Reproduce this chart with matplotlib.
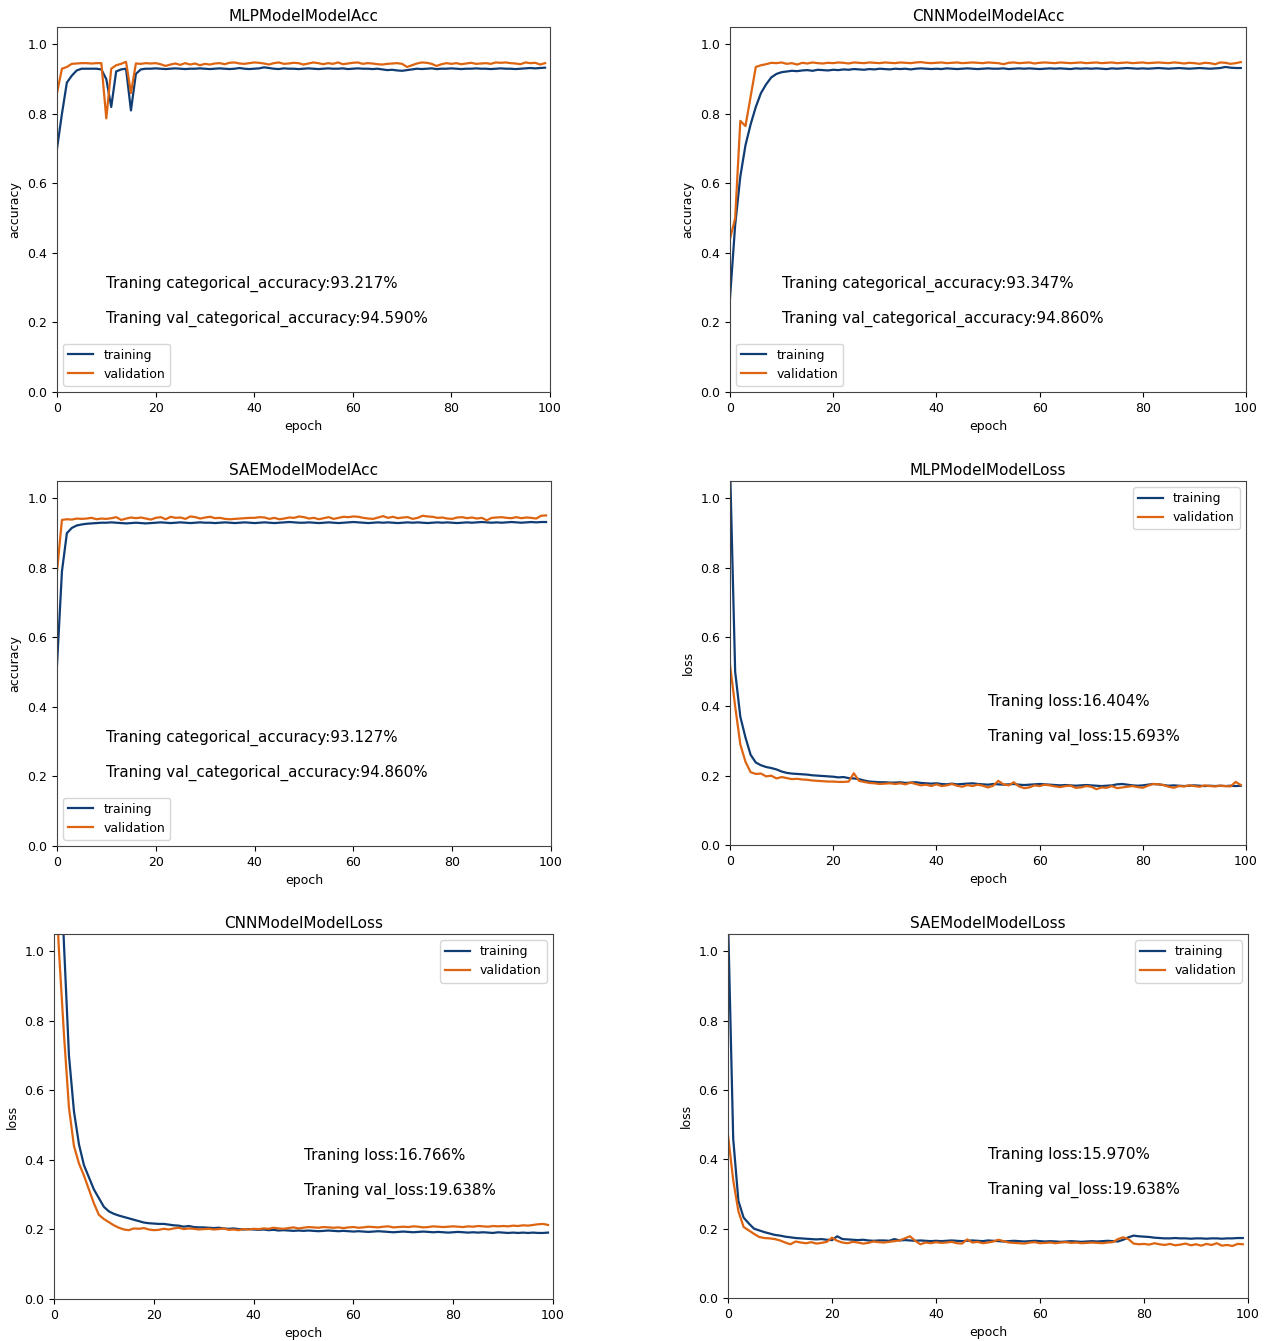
import numpy as np
import matplotlib
matplotlib.use('Agg')
import matplotlib.pyplot as plt

# epochs 0..99
epochs = list(range(100))

mlp_acc_train = [
    0.700, 0.800, 0.890, 0.910, 0.925, 0.930, 0.930, 0.930, 0.930, 0.928,
    0.900, 0.820, 0.922, 0.928, 0.930, 0.810, 0.915, 0.928, 0.930, 0.930,
    0.931, 0.930, 0.929, 0.930, 0.931, 0.930, 0.929, 0.930, 0.930, 0.931,
    0.930, 0.929, 0.930, 0.931, 0.930, 0.929, 0.930, 0.932, 0.930, 0.929,
    0.930, 0.931, 0.934, 0.932, 0.930, 0.929, 0.931, 0.930, 0.930, 0.929,
    0.930, 0.931, 0.930, 0.929, 0.930, 0.931, 0.930, 0.930, 0.931, 0.929,
    0.930, 0.931, 0.930, 0.930, 0.929, 0.930, 0.928, 0.926, 0.927, 0.925,
    0.924, 0.926, 0.928, 0.930, 0.929, 0.930, 0.931, 0.929, 0.930, 0.930,
    0.931, 0.930, 0.929, 0.930, 0.930, 0.931, 0.930, 0.930, 0.929, 0.930,
    0.931, 0.930, 0.930, 0.929, 0.930, 0.931, 0.932, 0.931, 0.932, 0.933]
mlp_acc_val = [
    0.860, 0.930, 0.935, 0.944, 0.945, 0.946, 0.946, 0.945, 0.946, 0.946,
    0.787, 0.930, 0.940, 0.944, 0.950, 0.860, 0.945, 0.944, 0.946, 0.945,
    0.946, 0.943, 0.938, 0.942, 0.945, 0.941, 0.946, 0.942, 0.945, 0.940,
    0.944, 0.942, 0.945, 0.946, 0.943, 0.947, 0.948, 0.945, 0.944, 0.946,
    0.948, 0.947, 0.945, 0.942, 0.946, 0.948, 0.944, 0.945, 0.947, 0.946,
    0.942, 0.945, 0.948, 0.946, 0.943, 0.946, 0.944, 0.948, 0.943, 0.945,
    0.947, 0.948, 0.944, 0.946, 0.945, 0.943, 0.942, 0.944, 0.945, 0.946,
    0.944, 0.935, 0.940, 0.945, 0.948, 0.947, 0.944, 0.938, 0.943, 0.946,
    0.944, 0.946, 0.943, 0.945, 0.947, 0.944, 0.945, 0.946, 0.944, 0.948,
    0.947, 0.948, 0.946, 0.945, 0.943, 0.948, 0.946, 0.947, 0.942, 0.946]

cnn_acc_train = [
    0.270, 0.480, 0.620, 0.710, 0.770, 0.820, 0.860, 0.885, 0.905, 0.915,
    0.920, 0.922, 0.924, 0.923, 0.925, 0.926, 0.924, 0.927, 0.926, 0.925,
    0.927, 0.926, 0.928, 0.927, 0.929, 0.928, 0.927, 0.929, 0.928, 0.930,
    0.929, 0.928, 0.930, 0.929, 0.930, 0.928, 0.930, 0.931, 0.930, 0.929,
    0.930, 0.929, 0.931, 0.930, 0.929, 0.930, 0.931, 0.930, 0.929, 0.930,
    0.931, 0.930, 0.930, 0.931, 0.929, 0.930, 0.931, 0.930, 0.931, 0.930,
    0.929, 0.930, 0.931, 0.930, 0.931, 0.930, 0.929, 0.931, 0.930, 0.931,
    0.930, 0.931, 0.930, 0.929, 0.931, 0.930, 0.931, 0.932, 0.931, 0.930,
    0.931, 0.930, 0.931, 0.932, 0.931, 0.930, 0.931, 0.932, 0.931, 0.930,
    0.931, 0.932, 0.931, 0.930, 0.931, 0.932, 0.935, 0.933, 0.932, 0.932]
cnn_acc_val = [
    0.440, 0.500, 0.780, 0.765, 0.850, 0.935, 0.940, 0.943, 0.947, 0.946,
    0.948, 0.944, 0.946, 0.942, 0.947, 0.945, 0.948, 0.946, 0.945, 0.947,
    0.946, 0.948, 0.947, 0.945, 0.948, 0.947, 0.946, 0.948, 0.947, 0.946,
    0.948, 0.947, 0.946, 0.948, 0.947, 0.946, 0.948, 0.949, 0.947, 0.946,
    0.947, 0.948, 0.946, 0.947, 0.948, 0.946, 0.947, 0.948, 0.947, 0.946,
    0.948, 0.947, 0.946, 0.943, 0.947, 0.948, 0.946, 0.947, 0.948, 0.945,
    0.947, 0.948, 0.947, 0.946, 0.948, 0.947, 0.946, 0.947, 0.948, 0.946,
    0.947, 0.948, 0.946, 0.947, 0.948, 0.946, 0.947, 0.948, 0.946, 0.947,
    0.948, 0.946, 0.947, 0.948, 0.947, 0.946, 0.948, 0.947, 0.945, 0.947,
    0.946, 0.944, 0.947, 0.946, 0.943, 0.948, 0.947, 0.944, 0.946, 0.949]

sae_acc_train = [
    0.520, 0.790, 0.900, 0.915, 0.922, 0.925, 0.927, 0.928, 0.929, 0.930,
    0.930, 0.931, 0.930, 0.929, 0.928, 0.929, 0.930, 0.929, 0.928, 0.929,
    0.930, 0.931, 0.930, 0.929, 0.930, 0.931, 0.930, 0.929, 0.930, 0.931,
    0.930, 0.930, 0.929, 0.930, 0.931, 0.930, 0.929, 0.930, 0.931, 0.930,
    0.929, 0.930, 0.931, 0.930, 0.929, 0.930, 0.931, 0.932, 0.931, 0.930,
    0.930, 0.931, 0.930, 0.929, 0.930, 0.931, 0.930, 0.929, 0.930, 0.931,
    0.932, 0.931, 0.930, 0.929, 0.930, 0.931, 0.930, 0.931, 0.930, 0.929,
    0.930, 0.931, 0.930, 0.931, 0.930, 0.929, 0.930, 0.931, 0.930, 0.931,
    0.930, 0.929, 0.930, 0.931, 0.930, 0.931, 0.932, 0.931, 0.930, 0.931,
    0.930, 0.931, 0.932, 0.931, 0.930, 0.931, 0.932, 0.931, 0.932, 0.932]
sae_acc_val = [
    0.790, 0.938, 0.940, 0.939, 0.942, 0.941, 0.942, 0.944, 0.940, 0.942,
    0.941, 0.943, 0.946, 0.938, 0.942, 0.945, 0.943, 0.945, 0.942, 0.939,
    0.944, 0.946, 0.940, 0.947, 0.944, 0.945, 0.941, 0.948, 0.946, 0.942,
    0.945, 0.947, 0.943, 0.944, 0.941, 0.940, 0.941, 0.942, 0.943, 0.944,
    0.944, 0.946, 0.945, 0.941, 0.944, 0.940, 0.942, 0.945, 0.944, 0.948,
    0.946, 0.942, 0.944, 0.940, 0.943, 0.946, 0.941, 0.944, 0.947, 0.946,
    0.948, 0.947, 0.944, 0.942, 0.941, 0.945, 0.949, 0.944, 0.947, 0.943,
    0.945, 0.946, 0.941, 0.944, 0.950, 0.948, 0.947, 0.944, 0.945, 0.942,
    0.941, 0.945, 0.946, 0.943, 0.945, 0.942, 0.944, 0.937, 0.944, 0.945,
    0.946, 0.944, 0.943, 0.946, 0.943, 0.945, 0.944, 0.942, 0.950, 0.951]

mlp_loss_train = [
    1.100, 0.500, 0.370, 0.310, 0.260, 0.238, 0.230, 0.225, 0.222, 0.218,
    0.212, 0.208, 0.206, 0.205, 0.204, 0.203, 0.201, 0.200, 0.199, 0.198,
    0.197, 0.195, 0.196, 0.193, 0.192, 0.190, 0.186, 0.183, 0.182, 0.181,
    0.181, 0.180, 0.180, 0.181, 0.179, 0.180, 0.181, 0.179, 0.178, 0.177,
    0.178, 0.176, 0.175, 0.177, 0.175, 0.176, 0.177, 0.178, 0.176, 0.175,
    0.174, 0.176, 0.175, 0.174, 0.175, 0.176, 0.174, 0.173, 0.174, 0.175,
    0.176, 0.175, 0.174, 0.173, 0.172, 0.173, 0.172, 0.171, 0.172, 0.173,
    0.172, 0.171, 0.170, 0.171, 0.172, 0.175, 0.176, 0.174, 0.172, 0.171,
    0.172, 0.174, 0.176, 0.175, 0.173, 0.171, 0.172, 0.171, 0.170, 0.171,
    0.172, 0.171, 0.170, 0.171, 0.170, 0.171, 0.170, 0.171, 0.170, 0.171]
mlp_loss_val = [
    0.520, 0.400, 0.290, 0.240, 0.210, 0.205, 0.206, 0.198, 0.200, 0.192,
    0.196, 0.193, 0.190, 0.191, 0.189, 0.188, 0.186, 0.185, 0.184, 0.183,
    0.183, 0.182, 0.182, 0.183, 0.207, 0.185, 0.182, 0.179, 0.178, 0.176,
    0.177, 0.178, 0.176, 0.178, 0.175, 0.180, 0.176, 0.172, 0.174, 0.170,
    0.175, 0.170, 0.172, 0.176, 0.171, 0.168, 0.173, 0.170, 0.174, 0.171,
    0.166, 0.171, 0.185, 0.175, 0.172, 0.181, 0.169, 0.164, 0.166, 0.172,
    0.170, 0.174, 0.172, 0.169, 0.167, 0.170, 0.171, 0.165, 0.166, 0.170,
    0.168, 0.161, 0.166, 0.165, 0.170, 0.164, 0.166, 0.168, 0.170, 0.167,
    0.165, 0.171, 0.176, 0.175, 0.173, 0.168, 0.165, 0.170, 0.169, 0.172,
    0.170, 0.168, 0.172, 0.170, 0.169, 0.171, 0.170, 0.169, 0.182, 0.173]

cnn_loss_train = [
    1.700, 1.350, 1.020, 0.700, 0.540, 0.445, 0.385, 0.350, 0.315, 0.290,
    0.265, 0.252, 0.245, 0.240, 0.236, 0.232, 0.228, 0.224, 0.220, 0.218,
    0.217, 0.216, 0.216, 0.214, 0.212, 0.211, 0.208, 0.210, 0.207, 0.206,
    0.206, 0.205, 0.204, 0.205, 0.203, 0.202, 0.203, 0.201, 0.200, 0.201,
    0.200, 0.199, 0.200, 0.198, 0.199, 0.197, 0.198, 0.197, 0.196, 0.197,
    0.196, 0.197, 0.196, 0.195, 0.196, 0.197, 0.196, 0.195, 0.196, 0.195,
    0.194, 0.195, 0.194, 0.193, 0.194, 0.195, 0.194, 0.193, 0.192, 0.193,
    0.194, 0.193, 0.192, 0.193, 0.194, 0.193, 0.192, 0.193, 0.192, 0.191,
    0.192, 0.193, 0.192, 0.191, 0.192, 0.191, 0.192, 0.191, 0.190, 0.192,
    0.191, 0.190, 0.191, 0.190, 0.191, 0.190, 0.191, 0.190, 0.190, 0.191]
cnn_loss_val = [
    1.300, 1.000, 0.760, 0.550, 0.440, 0.390, 0.355, 0.315, 0.275, 0.242,
    0.230, 0.221, 0.212, 0.205, 0.200, 0.198, 0.203, 0.202, 0.204, 0.200,
    0.198, 0.199, 0.202, 0.200, 0.203, 0.205, 0.201, 0.203, 0.202, 0.200,
    0.201, 0.202, 0.200, 0.201, 0.203, 0.199, 0.200, 0.198, 0.201, 0.200,
    0.202, 0.201, 0.203, 0.202, 0.205, 0.203, 0.202, 0.204, 0.206, 0.203,
    0.205, 0.207, 0.206, 0.205, 0.207, 0.206, 0.205, 0.206, 0.204, 0.206,
    0.207, 0.205, 0.206, 0.208, 0.207, 0.206, 0.208, 0.209, 0.206, 0.207,
    0.208, 0.207, 0.209, 0.208, 0.206, 0.207, 0.209, 0.208, 0.207, 0.208,
    0.209, 0.208, 0.207, 0.209, 0.208, 0.210, 0.209, 0.208, 0.210, 0.209,
    0.210, 0.209, 0.211, 0.210, 0.212, 0.211, 0.213, 0.215, 0.216, 0.213]

sae_loss_train = [
    1.100, 0.460, 0.280, 0.232, 0.215, 0.200, 0.195, 0.190, 0.186, 0.182,
    0.180, 0.177, 0.175, 0.173, 0.172, 0.171, 0.170, 0.169, 0.170, 0.168,
    0.167, 0.178, 0.170, 0.169, 0.168, 0.167, 0.168, 0.166, 0.165, 0.166,
    0.166, 0.165, 0.170, 0.166, 0.167, 0.166, 0.165, 0.166, 0.165, 0.164,
    0.165, 0.164, 0.165, 0.166, 0.165, 0.164, 0.165, 0.166, 0.165, 0.164,
    0.166, 0.165, 0.164, 0.163, 0.164, 0.165, 0.164, 0.163, 0.164, 0.165,
    0.164, 0.163, 0.164, 0.163, 0.162, 0.163, 0.164, 0.163, 0.162, 0.163,
    0.164, 0.163, 0.164, 0.165, 0.164, 0.163, 0.168, 0.175, 0.180, 0.178,
    0.177, 0.176, 0.174, 0.173, 0.172, 0.172, 0.173, 0.172, 0.172, 0.171,
    0.172, 0.172, 0.171, 0.172, 0.172, 0.171, 0.172, 0.172, 0.173, 0.173]
sae_loss_val = [
    0.470, 0.340, 0.250, 0.205, 0.195, 0.185, 0.176, 0.173, 0.172, 0.170,
    0.166, 0.160, 0.155, 0.163, 0.160, 0.158, 0.161, 0.157, 0.159, 0.162,
    0.174, 0.165, 0.160, 0.158, 0.162, 0.160, 0.157, 0.159, 0.163, 0.161,
    0.160, 0.162, 0.164, 0.166, 0.172, 0.178, 0.165, 0.155, 0.160, 0.158,
    0.161, 0.159, 0.160, 0.162, 0.158, 0.157, 0.169, 0.160, 0.162, 0.158,
    0.160, 0.163, 0.168, 0.164, 0.160, 0.159, 0.158, 0.157, 0.160, 0.161,
    0.158, 0.159, 0.160, 0.158, 0.160, 0.161, 0.159, 0.160, 0.158, 0.159,
    0.160, 0.159, 0.158, 0.160, 0.161, 0.170, 0.175, 0.170, 0.157, 0.155,
    0.156, 0.154, 0.158, 0.155, 0.153, 0.156, 0.152, 0.154, 0.157, 0.152,
    0.155, 0.151, 0.156, 0.153, 0.158, 0.151, 0.153, 0.150, 0.156, 0.155]

TRAIN_C = '#103c74'
VAL_C = '#dd6410'

W, H = 1268, 1341
fig = plt.figure(figsize=(W / 100, H / 100), dpi=100)


def panel(box, title, train, val, ylabel, notes, note_x, note_ys, legend_loc):
    x0, y0, x1, y1 = box
    ax = fig.add_axes([x0 / W, (H - y1) / H, (x1 - x0) / W, (y1 - y0) / H])
    ax.plot(epochs, train, color=TRAIN_C, lw=1.6, label='training')
    ax.plot(epochs, val, color=VAL_C, lw=1.6, label='validation')
    ax.set_xlim(0, 100)
    ax.set_ylim(0, 1.05)
    ax.set_xticks([0, 20, 40, 60, 80, 100])
    ax.set_yticks([0.0, 0.2, 0.4, 0.6, 0.8, 1.0])
    ax.tick_params(labelsize=9)
    for s in ax.spines.values():
        s.set_color('#444444')
    ax.set_title(title, fontsize=11, pad=4)
    ax.set_xlabel('epoch', fontsize=9)
    ax.set_ylabel(ylabel, fontsize=9)
    for txt, ty in zip(notes, note_ys):
        ax.text(note_x, ty, txt, fontsize=10.9)
    ax.legend(loc=legend_loc, fontsize=9, handlelength=2.0)
    return ax


acc_notes = lambda a, v: ['Traning categorical_accuracy:%s' % a,
                          'Traning val_categorical_accuracy:%s' % v]
loss_notes = lambda a, v: ['Traning loss:%s' % a, 'Traning val_loss:%s' % v]

panel((57, 27, 550, 392), 'MLPModelModelAcc', mlp_acc_train, mlp_acc_val,
      'accuracy', acc_notes('93.217%', '94.590%'), 10, [0.3, 0.2], 'lower left')
panel((730, 27, 1246, 392), 'CNNModelModelAcc', cnn_acc_train, cnn_acc_val,
      'accuracy', acc_notes('93.347%', '94.860%'), 10, [0.3, 0.2], 'lower left')
panel((57, 481, 551, 846), 'SAEModelModelAcc', sae_acc_train, sae_acc_val,
      'accuracy', acc_notes('93.127%', '94.860%'), 10, [0.3, 0.2], 'lower left')
panel((730, 481, 1246, 845), 'MLPModelModelLoss', mlp_loss_train, mlp_loss_val,
      'loss', loss_notes('16.404%', '15.693%'), 50, [0.4, 0.3], 'upper right')
panel((54, 934, 553, 1299), 'CNNModelModelLoss', cnn_loss_train, cnn_loss_val,
      'loss', loss_notes('16.766%', '19.638%'), 50, [0.4, 0.3], 'upper right')
panel((728, 934, 1248, 1298), 'SAEModelModelLoss', sae_loss_train, sae_loss_val,
      'loss', loss_notes('15.970%', '19.638%'), 50, [0.4, 0.3], 'upper right')

fig.savefig('out.png', dpi=100)
